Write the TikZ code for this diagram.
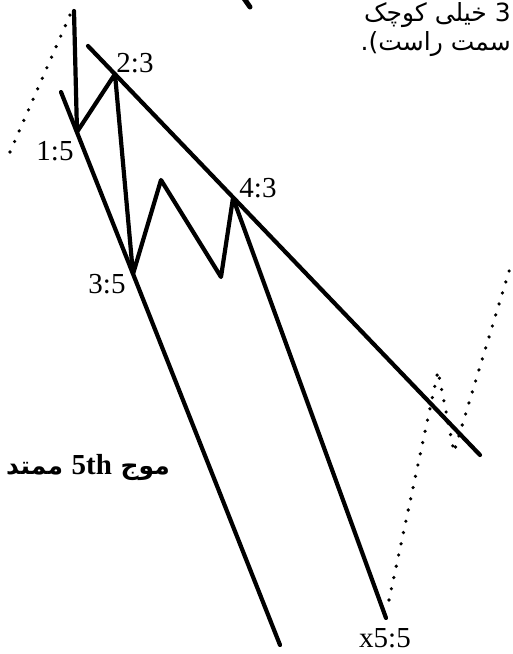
\documentclass[tikz,border=0pt]{standalone}
\usepackage{fontspec}
\setmainfont{Liberation Serif}
\newfontfamily\arabicfont[Script=Arabic]{DejaVu Sans}
\TeXXeTstate=1
\begin{document}
\begin{tikzpicture}[x=1pt,y=-1pt,
  wave/.style={line width=4.2pt, line cap=round, line join=round},
  dots/.style={line width=3.6pt, line cap=round, dash pattern=on 0pt off 11.5pt},
  lbl/.style={font=\fontsize{29}{29}\selectfont, inner sep=0pt},
  fa/.style={font=\arabicfont\fontsize{25}{25}\selectfont, inner sep=0pt}]
\useasboundingbox (0,0) rectangle (512,654);
\clip (0,0) rectangle (512,654);
% wave points
\coordinate (w0) at (74,11);
\coordinate (p15) at (77,132);
\coordinate (p23) at (115,74);
\coordinate (p35) at (133,274);
\coordinate (q1) at (161,180);
\coordinate (q2) at (221,277);
\coordinate (p43) at (233,198);
\coordinate (x55) at (386,618);
% trend line ends
\coordinate (lt0) at (61,92);
\coordinate (lt1) at (280,645);
\coordinate (ut0) at (88,46);
\coordinate (ut1) at (480,455);
% dotted paths
\coordinate (d0) at (10,152);
\coordinate (d1) at (70,15);
\coordinate (e0) at (389,600);
\coordinate (e1) at (438,371);
\coordinate (e2) at (454,452);
\coordinate (e3) at (510,268);
% top fragment
\coordinate (t0) at (243,-3);
\coordinate (t1) at (250,7);

\draw[wave] (w0) -- (p15) -- (p23) -- (p35) -- (q1) -- (q2) -- (p43) -- (x55);
\draw[wave] (lt0) -- (lt1);
\draw[wave] (ut0) -- (ut1);
\draw[wave, line width=5pt] (t0) -- (t1);
\draw[dots] (d0) -- (d1);
\draw[dots] (e0) -- (e1) -- (e2) -- (e3);

\node[lbl] (l15) at (55,151) {1:5};
\node[lbl] (l23) at (135,63) {2:3};
\node[lbl] (l43) at (258,188) {4:3};
\node[lbl] (l35) at (107,284) {3:5};
\node[lbl] (l55) at (385,638) {x5:5};

\node[fa, anchor=east] (t1a) at (511,15) {\beginR 3 خیلی کوچک\endR};
\node[fa, anchor=east] (t2a) at (511,44) {\beginR سمت راست).\endR};
\node[fa, font=\arabicfont\bfseries\fontsize{25}{25}\selectfont] (wave5) at (88,467)
  {\beginR موج \beginL{\rmfamily\bfseries\fontsize{29}{29}\selectfont 5th}\endL{} ممتد\endR};
\end{tikzpicture}
\end{document}
